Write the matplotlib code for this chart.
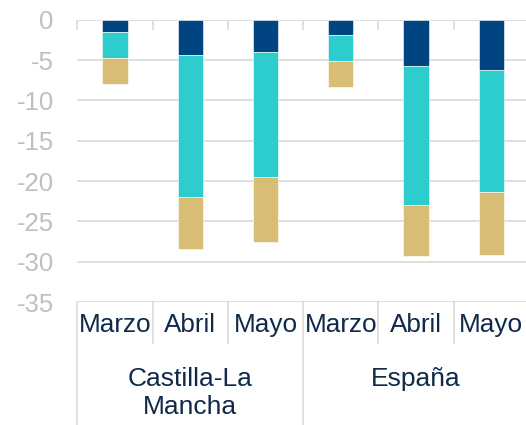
import matplotlib
matplotlib.use("Agg")
import matplotlib.pyplot as plt
import matplotlib.transforms as mtransforms
import numpy as np

plt.rcParams['font.family'] = ['Liberation Sans', 'DejaVu Sans']

months = ["Marzo", "Abril", "Mayo", "Marzo", "Abril", "Mayo"]
groups = ["Castilla-La\nMancha", "España"]
seg_dark = [-1.5, -4.4, -4.0, -1.9, -5.7, -6.2]
seg_turq = [-3.2, -17.6, -15.5, -3.2, -17.3, -15.2]
seg_tan = [-3.3, -6.4, -8.0, -3.3, -6.3, -7.8]
yticks = [0, -5, -10, -15, -20, -25, -30, -35]

colors = ["#004481", "#2DCCCD", "#D8BE75"]

fig = plt.figure(figsize=(5.26, 4.25), dpi=100)
ax = fig.add_axes([77.3 / 526, 1 - 302 / 425, 451.7 / 526, (302 - 19.7) / 425])

x = np.arange(len(months))
w = 0.336
bottom = np.zeros(len(months))
for seg, c in zip([seg_dark, seg_turq, seg_tan], colors):
    ax.bar(x, seg, w, bottom=bottom, color=c, edgecolor="white", linewidth=0.4, zorder=3)
    bottom = bottom + np.array(seg)

ax.set_xlim(-0.5, len(months) - 0.5)
ax.set_ylim(-35, 0)
ax.set_yticks(yticks)
ax.set_yticklabels([str(v) for v in yticks])
ax.tick_params(axis='y', length=0, pad=17, labelsize=18.5, labelcolor="#BFBFBF")
ax.grid(axis='y', color="#D9D9D9", linewidth=1.2, zorder=0)
for s in ax.spines.values():
    s.set_visible(False)

# top ticks at category boundaries
bounds = np.arange(-0.5, len(months), 1.0)
ax.xaxis.set_ticks_position('top')
ax.set_xticks(bounds)
ax.set_xticklabels([])
ax.tick_params(axis='x', direction='in', length=7, color="#D9D9D9", width=1.2)

trans = mtransforms.blended_transform_factory(ax.transData, ax.transAxes)
# bottom separators
for b in bounds:
    is_group = (b in (-0.5, 2.5, 5.5))
    y1 = -0.436 if is_group else -0.145
    ax.plot([b, b], [0, y1], transform=trans, color="#D9D9D9", linewidth=1.2, clip_on=False)

for xi, m in zip(x, months):
    ax.text(xi, -0.0815, m, transform=trans, ha='center', va='center', fontsize=18.8, color="#0F2A4A")

ax.text(1, -0.232, groups[0], transform=trans, ha='center', va='top', fontsize=19,
        color="#0F2A4A", linespacing=1.2)
ax.text(4, -0.232, groups[1], transform=trans, ha='center', va='top', fontsize=19,
        color="#0F2A4A")

fig.savefig("out.png", dpi=100)
